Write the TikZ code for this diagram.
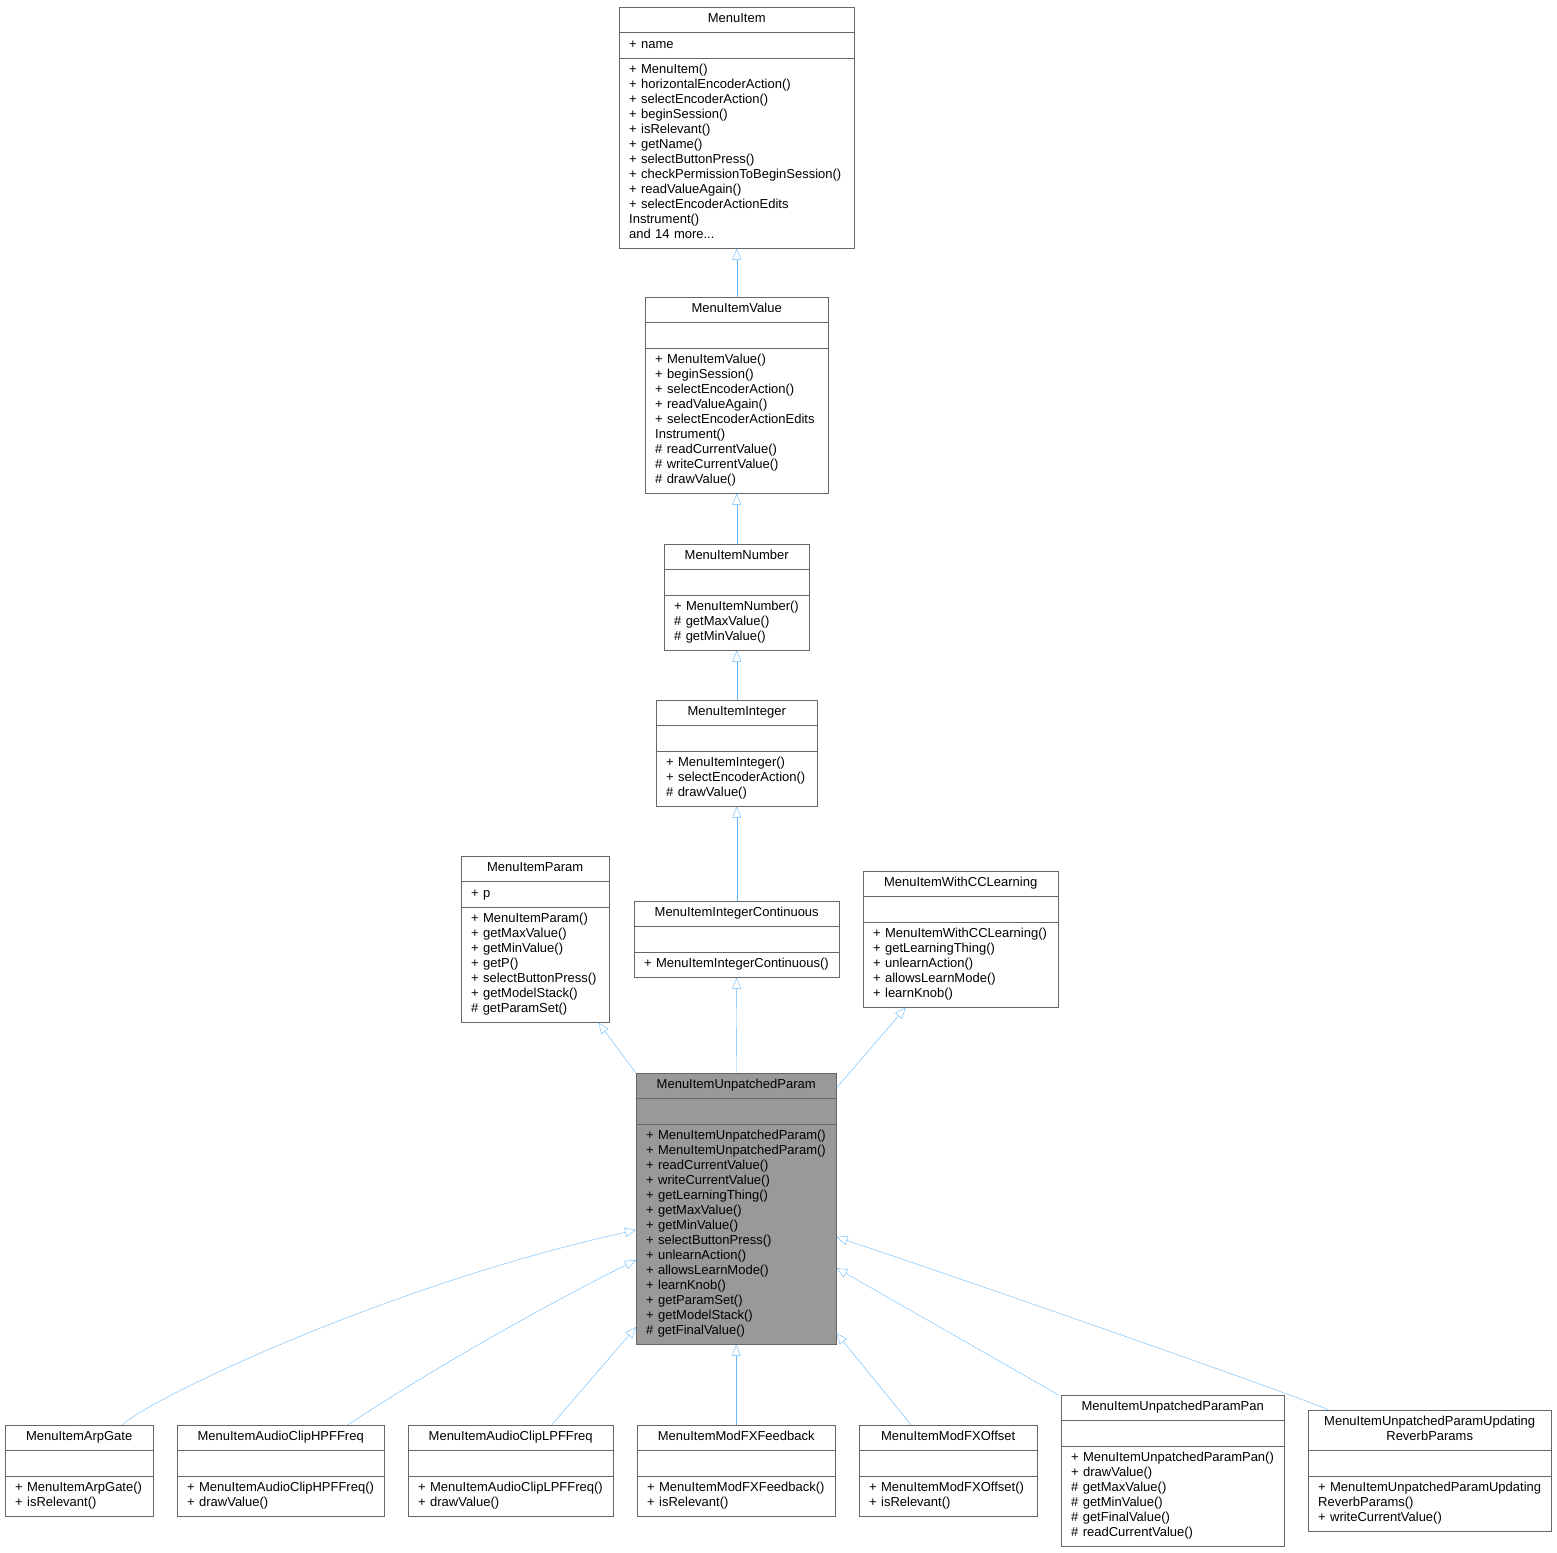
\documentclass[tikz,border=0pt]{standalone}
\usepackage{fontspec}
\setmainfont{Liberation Sans}
\usetikzlibrary{shapes.multipart,arrows.meta}
\definecolor{edgeblue}{HTML}{63B8FF}
\definecolor{boxline}{HTML}{666666}
\definecolor{boxgray}{HTML}{999999}
\newcommand{\ctitle}[1]{\parbox[t]{\linewidth}{\centering\strut #1\strut}}
\tikzset{
  classbox/.style={draw=boxline, rectangle split, rectangle split parts=3,
    anchor=north west, inner xsep=10pt, inner ysep=5pt, align=left,
    font=\fontsize{13}{15}\selectfont, fill=white},
  inherit/.style={draw=edgeblue, -{Triangle[open,length=11pt,width=9pt]}}
}
\begin{document}
\begin{tikzpicture}[x=1pt,y=-1pt]
  \useasboundingbox (0,0) rectangle (1557,1552);

  % Base classes
  \node[classbox, text width=215pt] (item) at (619,7) {\ctitle{MenuItem}
    \nodepart{two}\strut + name\strut
    \nodepart{three}\strut + MenuItem()\\+ horizontalEncoderAction()\\+ selectEncoderAction()\\+ beginSession()\\+ isRelevant()\\+ getName()\\+ selectButtonPress()\\+ checkPermissionToBeginSession()\\+ readValueAgain()\\+ selectEncoderActionEdits\\Instrument()\\and 14 more...\strut};
  \node[classbox, text width=163pt] (value) at (645,297) {\ctitle{MenuItemValue}
    \nodepart{two}\strut\nodepart{three}\strut + MenuItemValue()\\+ beginSession()\\+ selectEncoderAction()\\+ readValueAgain()\\+ selectEncoderActionEdits\\Instrument()\\\# readCurrentValue()\\\# writeCurrentValue()\\\# drawValue()\strut};
  \node[classbox, text width=125pt] (number) at (664,544) {\ctitle{MenuItemNumber}
    \nodepart{two}\strut\nodepart{three}\strut + MenuItemNumber()\\\# getMaxValue()\\\# getMinValue()\strut};
  \node[classbox, text width=141pt] (integer) at (656,700) {\ctitle{MenuItemInteger}
    \nodepart{two}\strut\nodepart{three}\strut + MenuItemInteger()\\+ selectEncoderAction()\\\# drawValue()\strut};
  \node[classbox, text width=128pt] (param) at (461,856) {\ctitle{MenuItemParam}
    \nodepart{two}\strut + p\strut
    \nodepart{three}\strut + MenuItemParam()\\+ getMaxValue()\\+ getMinValue()\\+ getP()\\+ selectButtonPress()\\+ getModelStack()\\\# getParamSet()\strut};
  \node[classbox, text width=185pt] (cont) at (634,901) {\ctitle{MenuItemIntegerContinuous}
    \nodepart{two}\strut\nodepart{three}\strut + MenuItemIntegerContinuous()\strut};
  \node[classbox, text width=175pt] (cclearn) at (863,871) {\ctitle{MenuItemWithCCLearning}
    \nodepart{two}\strut\nodepart{three}\strut + MenuItemWithCCLearning()\\+ getLearningThing()\\+ unlearnAction()\\+ allowsLearnMode()\\+ learnKnob()\strut};

  % Central class
  \node[classbox, text width=180pt, fill=boxgray] (unp) at (636,1073) {\ctitle{MenuItemUnpatchedParam}
    \nodepart{two}\strut\nodepart{three}\strut + MenuItemUnpatchedParam()\\+ MenuItemUnpatchedParam()\\+ readCurrentValue()\\+ writeCurrentValue()\\+ getLearningThing()\\+ getMaxValue()\\+ getMinValue()\\+ selectButtonPress()\\+ unlearnAction()\\+ allowsLearnMode()\\+ learnKnob()\\+ getParamSet()\\+ getModelStack()\\\# getFinalValue()\strut};

  % Derived classes
  \node[classbox, text width=128pt] (arp) at (5,1425) {\ctitle{MenuItemArpGate}
    \nodepart{two}\strut\nodepart{three}\strut + MenuItemArpGate()\\+ isRelevant()\strut};
  \node[classbox, text width=187pt] (hpf) at (177,1425) {\ctitle{MenuItemAudioClipHPFFreq}
    \nodepart{two}\strut\nodepart{three}\strut + MenuItemAudioClipHPFFreq()\\+ drawValue()\strut};
  \node[classbox, text width=185pt] (lpf) at (408,1425) {\ctitle{MenuItemAudioClipLPFFreq}
    \nodepart{two}\strut\nodepart{three}\strut + MenuItemAudioClipLPFFreq()\\+ drawValue()\strut};
  \node[classbox, text width=178pt] (fxfb) at (637,1425) {\ctitle{MenuItemModFXFeedback}
    \nodepart{two}\strut\nodepart{three}\strut + MenuItemModFXFeedback()\\+ isRelevant()\strut};
  \node[classbox, text width=158pt] (fxoff) at (859,1425) {\ctitle{MenuItemModFXOffset}
    \nodepart{two}\strut\nodepart{three}\strut + MenuItemModFXOffset()\\+ isRelevant()\strut};
  \node[classbox, text width=203pt] (pan) at (1061,1395) {\ctitle{MenuItemUnpatchedParamPan}
    \nodepart{two}\strut\nodepart{three}\strut + MenuItemUnpatchedParamPan()\\+ drawValue()\\\# getMaxValue()\\\# getMinValue()\\\# getFinalValue()\\\# readCurrentValue()\strut};
  \node[classbox, text width=223pt] (reverb) at (1308,1410) {\ctitle{MenuItemUnpatchedParamUpdating\\ReverbParams}
    \nodepart{two}\strut\nodepart{three}\strut + MenuItemUnpatchedParamUpdating\\ReverbParams()\\+ writeCurrentValue()\strut};

  % Inheritance chain
  \draw[inherit] (value.north) -- (item.south);
  \draw[inherit] (number.north) -- (value.south);
  \draw[inherit] (integer.north) -- (number.south);
  \draw[inherit] (cont.north) -- (integer.south);
  \draw[inherit] (unp.north) -- (cont.south);
  \draw[inherit] (unp.north west) -- ([xshift=-11pt]param.south east);
  \draw[inherit] ([yshift=-15pt]unp.north east) -- ([xshift=-55pt]cclearn.south);

  % Derived classes to central class
  \draw[inherit] ([xshift=43pt]arp.north) .. controls +(25,-25) and +(-250,55) .. ([yshift=-157pt]unp.north west);
  \draw[inherit] ([xshift=67pt]hpf.north) .. controls +(60,-40) and +(-120,60) .. ([yshift=-187pt]unp.north west);
  \draw[inherit] ([xshift=41pt]lpf.north) -- ([yshift=-254pt]unp.north west);
  \draw[inherit] (fxfb.north) -- (unp.south);
  \draw[inherit] ([xshift=-37pt]fxoff.north) -- ([yshift=-260pt]unp.north east);
  \draw[inherit] ([xshift=-114pt]pan.north) -- ([yshift=-195pt]unp.north east);
  \draw[inherit] ([xshift=-101pt]reverb.north) .. controls +(-20,-10) and +(150,50) .. ([yshift=-164pt]unp.north east);
\end{tikzpicture}
\end{document}
